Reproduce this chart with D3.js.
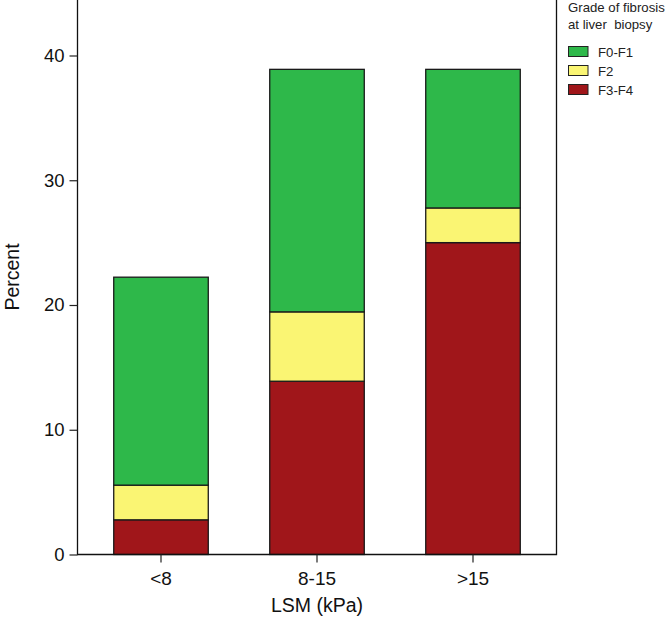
<!DOCTYPE html>
<html>
<head>
<meta charset="utf-8">
<script src="https://cdn.jsdelivr.net/npm/d3@7"></script>
<style>
  html, body { margin: 0; padding: 0; background: #fff; }
  svg { display: block; font-family: "Liberation Sans", Arial, sans-serif; }
</style>
</head>
<body>
<svg id="chart" width="671" height="618"></svg>
<script>
// data (percent of patients)
var groups = ['<8', '8-15', '>15']
var grades = ['F3-F4', 'F2', 'F0-F1']
var f34 = [2.78, 13.89, 25.0]
var f2 = [2.78, 5.56, 2.78]
var f01 = [16.67, 19.44, 11.11]
var yTicks = [0, 10, 20, 30, 40]
var legendOrder = ['F0-F1', 'F2', 'F3-F4']
var colors = { 'F0-F1': '#2eb84a', 'F2': '#faf573', 'F3-F4': '#a0161a' }

var rows = groups.map((g, i) => ({ group: g, 'F3-F4': f34[i], 'F2': f2[i], 'F0-F1': f01[i] }))
var stacked = d3.stack().keys(grades)(rows)

var svg = d3.select('#chart')
var frame = { left: 77.5, right: 556.5, top: 0, bottom: 554.5 }

var x = d3.scaleBand()
    .domain(groups)
    .range([83, 551])
    .paddingInner(0.394)
    .paddingOuter(0.197)
var y = d3.scaleLinear()
    .domain([0, 40])
    .range([554.5, 55.5])

// bars
svg.append('g')
    .selectAll('g')
    .data(stacked)
    .join('g')
    .attr('fill', d => colors[d.key])
    .selectAll('rect')
    .data(d => d)
    .join('rect')
    .attr('x', d => x(d.data.group))
    .attr('y', d => y(d[1]))
    .attr('width', x.bandwidth())
    .attr('height', d => y(d[0]) - y(d[1]))
    .attr('stroke', '#1a1a1a')
    .attr('stroke-width', 1.3)

// frame (left, bottom, right)
svg.append('path')
    .attr('d', `M${frame.left},${frame.top}V${frame.bottom}H${frame.right}V${frame.top}`)
    .attr('fill', 'none')
    .attr('stroke', '#111')
    .attr('stroke-width', 1.3)

// Y axis
var yAxis = d3.axisLeft(y).tickValues(yTicks).tickSize(8).tickPadding(5)
var gy = svg.append('g')
    .attr('transform', `translate(${frame.left},0)`)
    .call(yAxis)
gy.select('.domain').remove()
gy.selectAll('.tick line').attr('stroke', '#222').attr('stroke-width', 1.2)
gy.selectAll('.tick text').attr('font-size', 18.5).attr('fill', '#111')
    .attr('font-family', '"Liberation Sans", Arial, sans-serif')

// X axis
var xAxis = d3.axisBottom(x).tickSize(8).tickPadding(9)
var gx = svg.append('g')
    .attr('transform', `translate(0,${frame.bottom})`)
    .call(xAxis)
gx.select('.domain').remove()
gx.selectAll('.tick line').attr('stroke', '#222').attr('stroke-width', 1.2)
gx.selectAll('.tick text').attr('font-size', 19).attr('fill', '#111')
    .attr('font-family', '"Liberation Sans", Arial, sans-serif')

// axis titles
svg.append('text')
    .attr('x', 317)
    .attr('y', 612)
    .attr('text-anchor', 'middle')
    .attr('font-size', 19.5)
    .attr('fill', '#111')
    .text('LSM (kPa)')
svg.append('text')
    .attr('transform', 'translate(19,277) rotate(-90)')
    .attr('text-anchor', 'middle')
    .attr('font-size', 19.5)
    .attr('fill', '#111')
    .text('Percent')

// legend
var lg = svg.append('g').attr('transform', 'translate(568,0)')
lg.append('text').attr('x', 0).attr('y', 12).attr('font-size', 13.2).attr('fill', '#222')
    .text('Grade of fibrosis')
lg.append('text').attr('x', 0).attr('y', 29).attr('font-size', 13.2).attr('fill', '#222')
    .attr('xml:space', 'preserve').style('white-space', 'pre')
    .text('at liver  biopsy')
var items = lg.selectAll('g.item')
    .data(legendOrder)
    .join('g')
    .attr('class', 'item')
    .attr('transform', (d, i) => `translate(0,${51.5 + i * 19})`)
items.append('rect')
    .attr('x', 0.5)
    .attr('y', -5)
    .attr('width', 19.5)
    .attr('height', 10)
    .attr('fill', d => colors[d])
    .attr('stroke', '#222')
    .attr('stroke-width', 1)
items.append('text')
    .attr('x', 30)
    .attr('y', 5)
    .attr('font-size', 13.2)
    .attr('fill', '#222')
    .text(d => d)
</script>
</body>
</html>
